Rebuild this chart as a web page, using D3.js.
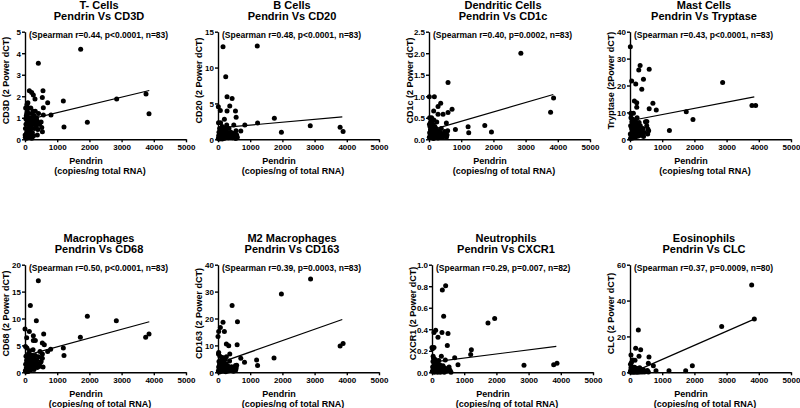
<!DOCTYPE html>
<html><head><meta charset="utf-8">
<script src="https://cdn.jsdelivr.net/npm/d3@7"></script>
<style>body{margin:0;background:#fff}svg{display:block}text{font-family:"Liberation Sans",Arial,sans-serif;font-weight:bold;fill:#000}</style>
</head><body><svg id="c" width="800" height="408"></svg>
<script>
const titles1=["T- Cells","B Cells","Dendritic Cells","Mast Cells","Macrophages","M2 Macrophages","Neutrophils","Eosinophils"];
const titles2=["Pendrin Vs CD3D","Pendrin Vs CD20","Pendrin Vs CD1c","Pendrin Vs Tryptase","Pendrin Vs CD68","Pendrin Vs CD163","Pendrin Vs CXCR1","Pendrin Vs CLC"];
const stats=["(Spearman r=0.44, p<0.0001, n=83)","(Spearman r=0.48, p<0.0001, n=83)","(Spearman r=0.40, p=0.0002, n=83)","(Spearman r=0.43, p<0.0001, n=83)","(Spearman r=0.50, p<0.0001, n=83)","(Spearman r=0.39, p=0.0003, n=83)","(Spearman r=0.29, p=0.007, n=82)","(Spearman r=0.37, p=0.0009, n=80)"];
const yLabels=["CD3D (2 Power dCT)","CD20 (2 Power dCT)","CD1c (2 Power dCT)","Tryptase (2Power dCT)","CD68 (2 Power dCT)","CD163 (2 Power dCT)","CXCR1 (2 Power dCT)","CLC (2 Power dCT)"];
const xLabel1="Pendrin";
const xLabel2=["(copies/ng total RNA)","(copies/ng of total RNA)","(copies/ng of total RNA)","(copies/ng total RNA)","(copies/ng of total RNA)","(copies/ng of total RNA)","(copies/ng of total RNA)","(copies/ng of total RNA)"];
const xTicks=[0,1000,2000,3000,4000,5000];
const yTicks=[[0,1,2,3,4,5],[0,5,10,15],[0,0.5,1,1.5,2,2.5],[0,10,20,30,40],[0,5,10,15,20],[0,10,20,30,40],[0,0.2,0.4,0.6,0.8,1.0],[0,20,40,60]];
const yDecimals=[0,0,1,0,0,0,1,0];
const fitIntercept=[0.88,1.58,0.2,6.9,3.1,3.3,0.094,-0.7];
const fitSlope=[0.000359,0.0004,0.000218,0.0023,0.00163,0.00423,0.0000381,0.00787];
const fitRange=[[0,3860],[0,3860],[0,3860],[0,3860],[0,3860],[0,3860],[0,3860],[100,3860]];

const tCells=[[1729,4.18],[414,3.53],[1190,1.78],[1211,0.57],[1936,0.79],[2847,1.87],[3758,2.1],[3851,1.19],[807,1.13],[559,2.26],[538,1.94],[569,1.47],[704,1.7],[569,1.13],[383,0.2],[135,2.26],[207,2.17],[259,2.06],[310,1.87],
[20,1.45],[40,1.1],[60,0.9],[30,0.7],[80,0.5],[50,0.3],[100,0.15],[120,0.4],[150,0.6],[180,0.8],[200,1.0],[220,1.2],[250,1.3],[280,1.1],[300,0.9],[330,0.75],[350,0.6],[400,0.45],[450,0.7],[500,0.8],[520,0.55],[540,0.35],[10,0.1],[15,0.5],[25,0.95],[70,1.3],[90,1.7],[110,1.2],[130,1.0],[140,0.25],[160,0.1],[170,0.35],[190,0.5],[230,0.3],[240,0.7],[270,0.9],[290,0.5],[320,1.3],[360,1.0],[380,0.85],[420,1.2],[60,1.6],[100,1.45],[130,0.75],[5,0.2],[45,0.05],[75,0.15],[210,0.05],[180,1.45],[260,0.15],[85,0.95],[55,1.2],[200,0.65],[110,0.85]];
const bCells=[[156,12.9],[1219,13.0],[240,8.73],[281,5.94],[438,5.7],[365,4.64],[542,3.95],[563,3.07],[10,4.55],[73,4.0],[281,3.95],[1750,2.93],[1229,2.28],[833,2.0],[1969,0.98],[2865,1.9],[3792,1.67],[3885,1.07],[708,1.16],[490,2.0],[198,2.79],
[10,0.1],[20,0.5],[30,1.0],[40,0.2],[50,1.5],[60,0.3],[70,0.8],[80,2.3],[90,0.1],[100,0.6],[110,1.2],[120,0.4],[130,1.8],[140,0.2],[150,0.9],[160,0.5],[170,1.4],[180,0.1],[190,0.7],[200,1.1],[210,0.3],[220,1.6],[230,0.5],[240,0.2],[250,1.3],[260,0.8],[270,2.0],[280,0.4],[300,0.9],[320,0.2],[340,1.5],[360,0.6],[380,0.3],[400,1.0],[420,0.5],[450,0.2],[480,0.8],[520,0.4],[550,0.1],[560,1.2],[580,0.6],[600,0.3],[15,2.3],[45,0.05],[75,0.15],[130,0.05]];
const dendritic=[[2853,2.0],[591,1.32],[166,0.99],[10,0.99],[363,0.84],[716,0.7],[145,0.66],[591,0.62],[280,0.76],[280,0.58],[436,0.58],[3869,0.96],[3776,0.63],[1732,0.32],[1940,0.17],[1214,0.29],[1234,0.15],[820,0.23],[539,0.38],[20,0.5],[488,0.18],
[10,0.05],[20,0.15],[30,0.3],[40,0.1],[50,0.4],[60,0.05],[70,0.2],[80,0.5],[90,0.12],[100,0.25],[110,0.08],[120,0.35],[130,0.15],[140,0.02],[150,0.45],[160,0.1],[170,0.2],[180,0.3],[190,0.05],[200,0.12],[220,0.25],[240,0.4],[250,0.08],[260,0.15],[280,0.03],[300,0.2],[320,0.1],[340,0.05],[360,0.15],[380,0.25],[400,0.1],[420,0.05],[450,0.12],[480,0.08],[520,0.15],[540,0.05],[560,0.1],[580,0.2],[15,0.35],[45,0.22]];
const mast=[[10,34.4],[314,27.4],[272,25.8],[596,26.0],[418,22.3],[52,21.7],[178,20.6],[366,18.6],[2877,21.1],[136,14.2],[209,13.6],[711,13.4],[596,11.4],[816,10.9],[1747,10.2],[1956,7.4],[3787,12.6],[3902,12.6],[1224,3.3],[554,3.8],[523,6.6],[282,6.2],[31,9.7],[105,9.7],[209,11.9],
[10,2],[20,5],[30,8],[40,1],[50,4],[60,6.5],[70,3],[80,0.5],[90,7.5],[100,2.5],[110,5],[120,1.5],[130,4.5],[140,6],[150,0.8],[160,3.5],[170,7],[180,2],[190,5.5],[200,1],[210,3],[220,8],[230,4],[240,2.5],[250,6],[260,1.2],[270,4.8],[280,3],[300,2],[320,5],[340,1.5],[360,3.5],[380,2.2],[400,4],[420,1],[450,2.5],[480,6.5],[520,5],[550,2],[580,3.2],[15,0.3],[35,9.5]];
const macro=[[414,17.0],[166,12.4],[352,9.6],[1936,10.4],[2836,9.6],[1719,6.5],[3747,6.5],[3851,7.1],[580,7.1],[538,5.45],[600,5.1],[0,8.05],[52,6.4],[135,7.6],[259,5.9],[321,5.9],[259,6.8],[797,4.3],[704,3.85],[1190,4.5],[1211,3.1],[466,3.85],[538,2.6],[487,1.9],[435,1.1],[362,1.2],
[10,0.3],[20,1.5],[30,3],[40,0.8],[50,2.2],[60,4.5],[70,1.2],[80,0.2],[90,2.8],[100,1.6],[110,3.5],[120,0.6],[130,2.1],[140,4.0],[150,1.0],[160,2.6],[170,0.4],[180,3.2],[190,1.8],[200,2.4],[210,0.9],[220,3.0],[230,1.4],[240,2.0],[250,4.2],[260,1.1],[270,2.7],[280,0.5],[300,1.9],[320,3.1],[340,1.3],[360,2.3],[380,0.9],[400,1.6],[420,2.9],[450,1.4],[500,2.0],[540,3.4],[560,1.0],[15,4.8],[45,0.1],[95,0.15]];
const m2macro=[[2875,34.7],[1969,29.1],[438,24.8],[156,18.6],[604,18.8],[0,13.3],[21,15.2],[73,16.7],[198,15.2],[260,10.5],[333,9.9],[594,10.2],[3792,9.8],[3885,10.7],[1740,5.3],[1198,4.6],[1229,2.5],[823,3.7],[708,5.2],[365,6.8],[21,7.4],[542,2.5],[563,1.6],
[10,0.5],[20,2],[30,4],[40,1],[50,3],[60,6],[70,0.3],[80,2.5],[90,1.5],[100,4.5],[110,0.8],[120,3.5],[130,1.2],[140,5.5],[150,0.4],[160,2.2],[170,3.8],[180,1],[190,1.8],[200,0.6],[210,4.8],[220,2.8],[230,1.4],[240,0.2],[250,3.2],[260,5.8],[270,1.6],[280,0.9],[300,2.4],[320,0.5],[340,1.9],[360,4.2],[380,1.1],[400,0.7],[420,2.1],[450,1.3],[480,0.4],[520,1.8],[550,0.9],[580,2.6],[15,6.8],[45,0.1]];
const neutro=[[424,0.805],[321,0.765],[362,0.52],[1739,0.458],[1946,0.5],[62,0.37],[114,0.39],[186,0.325],[310,0.37],[497,0.36],[476,0.25],[62,0.23],[0,0.23],[1222,0.21],[1201,0.165],[704,0.135],[807,0.07],[2857,0.065],[3779,0.07],[3882,0.085],[290,0.15],[414,0.115],
[10,0.01],[20,0.05],[30,0.1],[40,0.02],[50,0.13],[60,0.06],[70,0.0],[80,0.09],[90,0.03],[100,0.12],[110,0.04],[120,0.07],[130,0.01],[140,0.1],[150,0.03],[160,0.06],[170,0.0],[180,0.08],[190,0.02],[200,0.05],[210,0.11],[220,0.01],[230,0.04],[240,0.07],[250,0.02],[260,0.0],[280,0.05],[300,0.03],[320,0.01],[340,0.06],[360,0.02],[380,0.0],[400,0.04],[450,0.01],[500,0.03],[530,0.05],[560,0.02],[590,0.0],[15,0.22],[35,0.15]];
const eosino=[[3779,48.7],[3861,29.7],[2847,25.6],[259,23.6],[176,13.4],[331,12.6],[31,9.7],[280,8.9],[590,8.5],[83,6.9],[155,6.7],[725,3.7],[1936,3.7],[1211,0.9],[1729,0.9],[807,0.9],[569,5.0],
[10,0.2],[20,1],[30,2.5],[40,0.5],[50,1.5],[60,0],[70,3],[80,0.8],[90,0.3],[100,2],[110,0.1],[120,1.2],[130,0.6],[140,2.8],[150,0],[160,1.8],[170,0.4],[180,0.9],[190,2.2],[200,0.1],[210,1.4],[220,0.3],[230,2],[240,0.7],[250,0],[260,1.1],[280,0.4],[300,2.5],[320,0.2],[340,0.8],[360,1.6],[380,0.1],[400,0.5],[420,1.3],[450,0.2],[500,0.6],[540,1.0],[570,0.1],[15,4.5],[45,5.5]];
const panelsData=[tCells,bCells,dendritic,mast,macro,m2macro,neutro,eosino];

const svg=d3.select("#c");
const plotLeft=[25,218,429,630,25,218,432,630];
const rowTop=[31.7,264.7];
const PW=161, PH=107.6;

panelsData.forEach((data,i)=>{
  const top=rowTop[Math.floor(i/4)], left=plotLeft[i], bottom=top+PH;
  const ticks=yTicks[i];
  const x=d3.scaleLinear().domain([0,5000]).range([left,left+PW]);
  const y=d3.scaleLinear().domain([0,ticks[ticks.length-1]]).range([bottom,top]);
  const g=svg.append("g");
  const fmt=yDecimals[i]?d3.format(".1f"):d3.format("d");
  const ya=g.append("g").attr("transform",`translate(${left},0)`)
    .call(d3.axisLeft(y).tickValues(ticks).tickFormat(fmt).tickSize(3).tickSizeOuter(0));
  const xa=g.append("g").attr("transform",`translate(0,${bottom})`)
    .call(d3.axisBottom(x).tickValues(xTicks).tickFormat(d3.format("d")).tickSize(3).tickSizeOuter(0));
  [ya,xa].forEach(a=>{
    a.select(".domain").attr("stroke","#000").attr("stroke-width",1.4);
    a.selectAll(".tick line").attr("stroke","#000").attr("stroke-width",1.4);
    a.selectAll(".tick text").style("font-size","8px").attr("fill","#000");
  });
  ya.selectAll(".tick text").attr("x",-4).attr("dy","0.35em");
  xa.selectAll(".tick text").attr("y",5);
  const [x0,x1]=fitRange[i];
  g.append("line").attr("x1",x(x0)).attr("y1",y(fitIntercept[i]+fitSlope[i]*x0))
    .attr("x2",x(x1)).attr("y2",y(fitIntercept[i]+fitSlope[i]*x1))
    .attr("stroke","#000").attr("stroke-width",1.2);
  g.selectAll("circle").data(data).join("circle")
    .attr("cx",d=>x(d[0])).attr("cy",d=>y(d[1])).attr("r",2.5).attr("fill","#000");
  const tx=left+74;
  g.append("text").attr("x",tx).attr("y",top-22.3).attr("text-anchor","middle").style("font-size","11px").text(titles1[i]);
  g.append("text").attr("x",tx).attr("y",top-11.5).attr("text-anchor","middle").style("font-size","11px").text(titles2[i]);
  g.append("text").attr("x",left+4).attr("y",top+6).style("font-size","8.5px").text(stats[i]);
  g.append("text").attr("x",left+61).attr("y",bottom+25).attr("text-anchor","middle").style("font-size","9px").text(xLabel1);
  g.append("text").attr("x",left+75).attr("y",bottom+34.5).attr("text-anchor","middle").style("font-size","9px").text(xLabel2[i]);
  g.append("text").attr("transform",`translate(${left-16.5},${top+PH/2-5}) rotate(-90)`).attr("text-anchor","middle").style("font-size","9px").text(yLabels[i]);
});
</script></body></html>
